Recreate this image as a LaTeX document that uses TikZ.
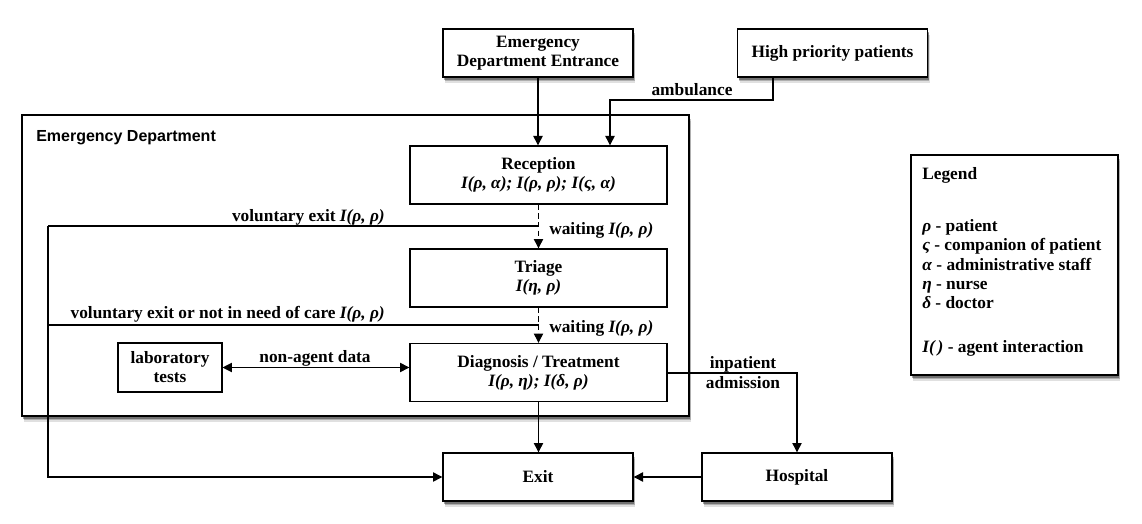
\documentclass[tikz,border=0pt]{standalone}
\usepackage{fontspec}
\setmainfont{Liberation Serif}
\setsansfont{Liberation Sans}
\usetikzlibrary{arrows.meta,shadows}
\newcommand\mainfnt{\fontsize{13}{14.25}\selectfont\bfseries}
\tikzset{
  shadowed/.style={
    drop shadow={shadow xshift=1.8pt, shadow yshift=-4.6pt, opacity=0.12, fill=black},
    drop shadow={shadow xshift=1.3pt, shadow yshift=-3.3pt, opacity=0.22, fill=black},
    drop shadow={shadow xshift=0.8pt, shadow yshift=-2pt, opacity=0.35, fill=black}},
  box/.style={draw, line width=1pt, fill=white, align=center, inner sep=2pt, font=\mainfnt},
  lbl/.style={font=\mainfnt, inner sep=0pt},
  conn/.style={line width=0.8pt, -{Triangle[length=7pt,width=7pt]}},
  dashconn/.style={conn, dash pattern=on 4pt off 2.5pt},
  biconn/.style={line width=0.8pt, {Triangle[length=7pt,width=7pt]}-{Triangle[length=7pt,width=7pt]}},
}
\begin{document}
\begin{tikzpicture}[x=0.75pt, y=-0.75pt]
\useasboundingbox (0,0) rectangle (1142,524);

% outer containers
\node[box, shadowed, minimum width=500.25pt, minimum height=225.75pt, inner sep=0pt] (ed) at (355.5,265.5) {};
\node[anchor=base west, inner sep=0pt, font=\sffamily\bfseries\fontsize{12}{14}\selectfont] (edlabel) at (36,142) {Emergency Department};

\node[box, shadowed, minimum width=155.25pt, minimum height=165pt, inner sep=0pt] (legend) at (1014.5,265) {};

% boxes
\node[box, shadowed, minimum width=142.5pt, minimum height=36pt] (entrance) at (538,53) {Emergency\\Department Entrance};
\node[box, shadowed, minimum width=142.5pt, minimum height=36pt] (hp) at (832.5,53) {High priority patients};

\node[box, minimum width=192.75pt, minimum height=43.5pt] (reception) at (538.5,175) {Reception\\\textit{I(ρ, α); I(ρ, ρ); I(ς, α)}};
\node[box, minimum width=192.75pt, minimum height=43.5pt] (triage) at (538.5,278) {Triage\\\textit{I(η, ρ)}};
\node[box, minimum width=192.75pt, minimum height=43.5pt] (diag) at (538.5,372.5) {Diagnosis / Treatment\\\textit{I(ρ, η); I(δ, ρ)}};
\node[box, line width=0.8pt, minimum width=78pt, minimum height=36.75pt] (lab) at (170,367.5) {laboratory\\tests};

\node[box, shadowed, minimum width=142.5pt, minimum height=36pt] (exit) at (538,477) {Exit};
\node[box, shadowed, minimum width=142.5pt, minimum height=36pt] (hospital) at (797,477) {Hospital};

% connector corner points
\coordinate (amb1) at (773,100);
\coordinate (amb2) at (610,100);
\coordinate (v1) at (538.5,226);
\coordinate (v2) at (538.5,325);
\coordinate (vl) at (48,226);
\coordinate (vl2) at (48,325);
\coordinate (vb) at (48,477);
\coordinate (ip) at (797,373);

% connectors
\draw[conn] (entrance.south) -- (entrance.south |- reception.north);
\draw[conn] (hp.south -| amb1) -- (amb1) -- (amb2) -- (amb2 |- reception.north);
\draw[dashconn] (reception.south) -- (triage.north);
\draw[dashconn] (triage.south) -- (diag.north);
\draw[line width=0.8pt] (v1) -- (vl);
\draw[line width=0.8pt] (v2) -- (vl2);
\draw[conn] (vl) -- (vb) -- (exit.west);
\draw[biconn] (lab.east) -- (diag.west |- lab.east);
\draw[conn] (diag.south) -- (diag.south |- exit.north);
\draw[conn] (diag.east |- ip) -- (ip) -- (hospital.north);
\draw[conn] (hospital.west) -- (exit.east);

% connector labels
\node[lbl, anchor=base] (lamb) at (692,96) {ambulance};
\node[lbl, anchor=base east] (lv1) at (385,221) {voluntary exit \textit{I(ρ, ρ)}};
\node[lbl, anchor=base east] (lv2) at (385,318) {voluntary exit or not in need of care \textit{I(ρ, ρ)}};
\node[lbl, anchor=base west] (lw1) at (549,234) {waiting \textit{I(ρ, ρ)}};
\node[lbl, anchor=base west] (lw2) at (549,332) {waiting \textit{I(ρ, ρ)}};
\node[lbl, anchor=base] (lnad) at (315,362) {non-agent data};
\node[lbl, align=center, font=\fontsize{13}{15}\selectfont\bfseries] (lip) at (743,373) {inpatient\\admission};

% legend text
\node[lbl, anchor=base west] (lg0) at (922,180) {Legend};
\node[lbl, anchor=base west] (lg1) at (922,231) {\textit{ρ} - patient};
\node[lbl, anchor=base west] (lg2) at (922,250) {\textit{ς} - companion of patient};
\node[lbl, anchor=base west] (lg3) at (922,270) {\textit{α} - administrative staff};
\node[lbl, anchor=base west] (lg4) at (922,289) {\textit{η} - nurse};
\node[lbl, anchor=base west] (lg5) at (922,308) {\textit{δ} - doctor};
\node[lbl, anchor=base west] (lg6) at (922,352) {\textit{I(\,)} - agent interaction};
\end{tikzpicture}
\end{document}
